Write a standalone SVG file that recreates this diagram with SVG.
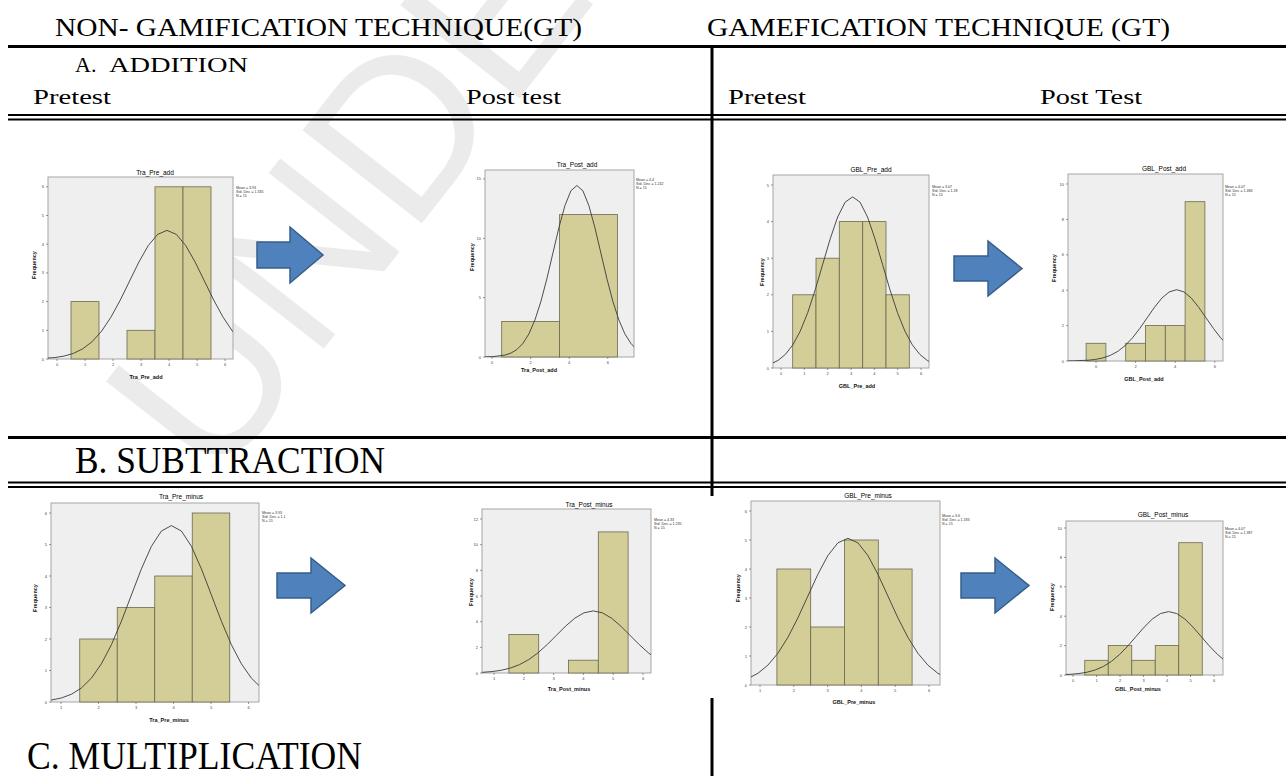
<svg xmlns="http://www.w3.org/2000/svg" width="1286" height="776" viewBox="0 0 1286 776">
<style>
.hd{font-family:"Liberation Serif","Times New Roman",serif;fill:#000}
.ln{stroke:#000;fill:none}
.wm{font-family:"Liberation Sans",Arial,sans-serif;font-size:220px;fill:#ebebeb}
.fr{fill:#efefef;stroke:#a6a6a6;stroke-width:1}
.bar{fill:#d3ce98;stroke:#6b6850;stroke-width:0.8}
.tk{stroke:#555;stroke-width:0.6}
.yl{font-family:"Liberation Sans",Arial,sans-serif;font-size:4px;fill:#444;text-anchor:end}
.xl{font-family:"Liberation Sans",Arial,sans-serif;font-size:4px;fill:#444;text-anchor:middle}
.ti{font-family:"Liberation Sans",Arial,sans-serif;font-size:6.5px;fill:#000;text-anchor:middle}
.ax{font-family:"Liberation Sans",Arial,sans-serif;font-size:5.5px;font-weight:bold;fill:#111;text-anchor:middle}
.st{font-family:"Liberation Sans",Arial,sans-serif;font-size:3.6px;fill:#333}
.arr{fill:#4f81bd;stroke:#385d8a;stroke-width:1.5}
#gc{fill:none;stroke:#3a3a3a;stroke-width:0.9;vector-effect:non-scaling-stroke;stroke-linejoin:round}
</style>
<defs>
<path id="gc" d="M-6,0 L-4.5,-0.00004 L-4,-0.0003 L-3.5,-0.0022 L-3,-0.0111 L-2.75,-0.0228 L-2.5,-0.0439 L-2.25,-0.0796 L-2,-0.1353 L-1.75,-0.2163 L-1.5,-0.3247 L-1.25,-0.4578 L-1,-0.6065 L-0.75,-0.7548 L-0.5,-0.8825 L-0.25,-0.9692 L0,-1 L0.25,-0.9692 L0.5,-0.8825 L0.75,-0.7548 L1,-0.6065 L1.25,-0.4578 L1.5,-0.3247 L1.75,-0.2163 L2,-0.1353 L2.25,-0.0796 L2.5,-0.0439 L2.75,-0.0228 L3,-0.0111 L3.5,-0.0022 L4,-0.0003 L4.5,-0.00004 L6,0"/>
<clipPath id="c1"><rect x="48" y="177" width="185" height="182"/></clipPath>
<clipPath id="c2"><rect x="485" y="170" width="149" height="187"/></clipPath>
<clipPath id="c3"><rect x="773" y="175" width="156" height="193"/></clipPath>
<clipPath id="c4"><rect x="1068" y="174" width="155" height="187"/></clipPath>
<clipPath id="c5"><rect x="51" y="503" width="208" height="199"/></clipPath>
<clipPath id="c6"><rect x="482" y="509" width="169" height="164"/></clipPath>
<clipPath id="c7"><rect x="751" y="501" width="189" height="184"/></clipPath>
<clipPath id="c8"><rect x="1066" y="521" width="157" height="154"/></clipPath>
</defs>
<rect width="1286" height="776" fill="#fff"/>
<text class="wm" transform="translate(215,488) rotate(-52)">UNDER PEER REVIEW</text>

<g id="table">
<text class="hd" x="55" y="36" font-size="25" textLength="527" lengthAdjust="spacingAndGlyphs">NON- GAMIFICATION TECHNIQUE(GT)</text>
<text class="hd" x="707" y="36" font-size="25" textLength="463" lengthAdjust="spacingAndGlyphs">GAMEFICATION TECHNIQUE (GT)</text>
<line class="ln" x1="8" y1="46.5" x2="1286" y2="46.5" stroke-width="3"/>
<text class="hd" x="75" y="72" font-size="22">A.</text>
<text class="hd" x="109" y="72" font-size="22" textLength="139" lengthAdjust="spacingAndGlyphs">ADDITION</text>
<text class="hd" x="33" y="104" font-size="22" textLength="78" lengthAdjust="spacingAndGlyphs">Pretest</text>
<text class="hd" x="466" y="104" font-size="22" textLength="95" lengthAdjust="spacingAndGlyphs">Post test</text>
<text class="hd" x="728" y="104" font-size="22" textLength="78" lengthAdjust="spacingAndGlyphs">Pretest</text>
<text class="hd" x="1040" y="104" font-size="22" textLength="102" lengthAdjust="spacingAndGlyphs">Post Test</text>
<line class="ln" x1="8" y1="115" x2="1286" y2="115" stroke-width="2"/>
<line class="ln" x1="8" y1="119.5" x2="1286" y2="119.5" stroke-width="2"/>
<line class="ln" x1="712" y1="46" x2="712" y2="496" stroke-width="3"/>
<line class="ln" x1="8" y1="437.5" x2="1286" y2="437.5" stroke-width="3"/>
<text class="hd" x="75" y="473" font-size="38" textLength="310" lengthAdjust="spacingAndGlyphs">B. SUBTTRACTION</text>
<line class="ln" x1="8" y1="482.5" x2="1286" y2="482.5" stroke-width="2"/>
<line class="ln" x1="8" y1="487" x2="1286" y2="487" stroke-width="2"/>
<line class="ln" x1="712" y1="698" x2="712" y2="776" stroke-width="3"/>
<text class="hd" x="27" y="769" font-size="39" textLength="335" lengthAdjust="spacingAndGlyphs">C. MULTIPLICATION</text>
</g>

<g id="chart-tra-pre-add">
<rect class="fr" x="48" y="177" width="185" height="182"/>
<rect class="bar" x="71" y="301.6" width="28" height="57.4"/>
<rect class="bar" x="127" y="330.3" width="28" height="28.7"/>
<rect class="bar" x="155" y="186.8" width="28" height="172.2"/>
<rect class="bar" x="183" y="186.8" width="28" height="172.2"/>
<g clip-path="url(#c1)"><use href="#gc" transform="translate(167,359) scale(37.4,128.6)"/></g>
<path class="tk" d="M46,359H48M46,330.3H48M46,301.6H48M46,272.9H48M46,244.2H48M46,215.5H48M46,186.8H48M57,359V361M85,359V361M113,359V361M141,359V361M169,359V361M197,359V361M225,359V361"/>
<text class="yl" x="44" y="360.5">0</text><text class="yl" x="44" y="331.8">1</text><text class="yl" x="44" y="303.1">2</text><text class="yl" x="44" y="274.4">3</text><text class="yl" x="44" y="245.7">4</text><text class="yl" x="44" y="217">5</text><text class="yl" x="44" y="188.3">6</text>
<text class="xl" x="57" y="366">0</text><text class="xl" x="85" y="366">1</text><text class="xl" x="113" y="366">2</text><text class="xl" x="141" y="366">3</text><text class="xl" x="169" y="366">4</text><text class="xl" x="197" y="366">5</text><text class="xl" x="225" y="366">6</text>
<text class="ti" x="155" y="175">Tra_Pre_add</text>
<text class="ax" x="146" y="379">Tra_Pre_add</text>
<text class="ax" transform="translate(36,265) rotate(-90)">Frequency</text>
<text class="st" x="236" y="189">Mean = 3.93</text><text class="st" x="236" y="193">Std. Dev. = 1.335</text><text class="st" x="236" y="197">N = 15</text>
</g>

<g id="chart-tra-post-add">
<rect class="fr" x="485" y="170" width="149" height="187"/>
<rect class="bar" x="501.7" y="321.4" width="57.9" height="35.6"/>
<rect class="bar" x="559.6" y="214.6" width="57.9" height="142.4"/>
<g clip-path="url(#c2)"><use href="#gc" transform="translate(576.9,357) scale(23.97,171.5)"/></g>
<path class="tk" d="M483,357H485M483,297.6H485M483,238.3H485M483,178.9H485M492,357V359M530.6,357V359M569.2,357V359M607.8,357V359"/>
<text class="yl" x="481" y="358.5">0</text><text class="yl" x="481" y="299.1">5</text><text class="yl" x="481" y="239.8">10</text><text class="yl" x="481" y="180.4">15</text>
<text class="xl" x="492" y="364">0</text><text class="xl" x="530.6" y="364">2</text><text class="xl" x="569.2" y="364">4</text><text class="xl" x="607.8" y="364">6</text>
<text class="ti" x="577" y="167">Tra_Post_add</text>
<text class="ax" x="539" y="372">Tra_Post_add</text>
<text class="ax" transform="translate(474,257) rotate(-90)">Frequency</text>
<text class="st" x="636" y="181">Mean = 4.4</text><text class="st" x="636" y="185">Std. Dev. = 1.242</text><text class="st" x="636" y="189">N = 15</text>
</g>

<g id="chart-gbl-pre-add">
<rect class="fr" x="773" y="175" width="156" height="193"/>
<rect class="bar" x="792.7" y="294.8" width="23.3" height="73.2"/>
<rect class="bar" x="816" y="258.2" width="23.3" height="109.8"/>
<rect class="bar" x="839.3" y="221.6" width="23.4" height="146.4"/>
<rect class="bar" x="862.7" y="221.6" width="23.3" height="146.4"/>
<rect class="bar" x="886" y="294.8" width="23.3" height="73.2"/>
<g clip-path="url(#c3)"><use href="#gc" transform="translate(852.6,368) scale(29.87,171.1)"/></g>
<path class="tk" d="M771,368H773M771,331.4H773M771,294.8H773M771,258.2H773M771,221.6H773M771,185H773M781,368V370M804.3,368V370M827.7,368V370M851,368V370M874.3,368V370M897.7,368V370M921,368V370"/>
<text class="yl" x="769" y="369.5">0</text><text class="yl" x="769" y="332.9">1</text><text class="yl" x="769" y="296.3">2</text><text class="yl" x="769" y="259.7">3</text><text class="yl" x="769" y="223.1">4</text><text class="yl" x="769" y="186.5">5</text>
<text class="xl" x="781" y="375">0</text><text class="xl" x="804.3" y="375">1</text><text class="xl" x="827.7" y="375">2</text><text class="xl" x="851" y="375">3</text><text class="xl" x="874.3" y="375">4</text><text class="xl" x="897.7" y="375">5</text><text class="xl" x="921" y="375">6</text>
<text class="ti" x="871" y="172">GBL_Pre_add</text>
<text class="ax" x="857" y="388">GBL_Pre_add</text>
<text class="ax" transform="translate(764,272) rotate(-90)">Frequency</text>
<text class="st" x="932" y="188">Mean = 3.07</text><text class="st" x="932" y="192">Std. Dev. = 1.28</text><text class="st" x="932" y="196">N = 15</text>
</g>

<g id="chart-gbl-post-add">
<rect class="fr" x="1068" y="174" width="155" height="187"/>
<rect class="bar" x="1086.1" y="343.3" width="19.8" height="17.7"/>
<rect class="bar" x="1125.7" y="343.3" width="19.8" height="17.7"/>
<rect class="bar" x="1145.5" y="325.6" width="19.8" height="35.4"/>
<rect class="bar" x="1165.3" y="325.6" width="19.8" height="35.4"/>
<rect class="bar" x="1185.1" y="201.7" width="19.8" height="159.3"/>
<g clip-path="url(#c4)"><use href="#gc" transform="translate(1176.6,361) scale(29.4,71.3)"/></g>
<path class="tk" d="M1066,361H1068M1066,325.6H1068M1066,290.2H1068M1066,254.8H1068M1066,219.4H1068M1066,184H1068M1096,361V363M1135.6,361V363M1175.2,361V363M1214.8,361V363"/>
<text class="yl" x="1064" y="362.5">0</text><text class="yl" x="1064" y="327.1">2</text><text class="yl" x="1064" y="291.7">4</text><text class="yl" x="1064" y="256.3">6</text><text class="yl" x="1064" y="220.9">8</text><text class="yl" x="1064" y="185.5">10</text>
<text class="xl" x="1096" y="368">0</text><text class="xl" x="1135.6" y="368">2</text><text class="xl" x="1175.2" y="368">4</text><text class="xl" x="1214.8" y="368">6</text>
<text class="ti" x="1164" y="171">GBL_Post_add</text>
<text class="ax" x="1144" y="381">GBL_Post_add</text>
<text class="ax" transform="translate(1056,268) rotate(-90)">Frequency</text>
<text class="st" x="1225" y="188">Mean = 4.07</text><text class="st" x="1225" y="192">Std. Dev. = 1.486</text><text class="st" x="1225" y="196">N = 15</text>
</g>

<g id="chart-tra-pre-minus">
<rect class="fr" x="51" y="503" width="208" height="199"/>
<rect class="bar" x="79.75" y="639" width="37.5" height="63"/>
<rect class="bar" x="117.25" y="607.5" width="37.5" height="94.5"/>
<rect class="bar" x="154.75" y="576" width="37.5" height="126"/>
<rect class="bar" x="192.25" y="513" width="37.5" height="189"/>
<g clip-path="url(#c5)"><use href="#gc" transform="translate(171.4,702) scale(40,176.4)"/></g>
<path class="tk" d="M49,702H51M49,670.5H51M49,639H51M49,607.5H51M49,576H51M49,544.5H51M49,513H51M61,702V704M98.5,702V704M136,702V704M173.5,702V704M211,702V704M248.5,702V704"/>
<text class="yl" x="47" y="703.5">0</text><text class="yl" x="47" y="672">1</text><text class="yl" x="47" y="640.5">2</text><text class="yl" x="47" y="609">3</text><text class="yl" x="47" y="577.5">4</text><text class="yl" x="47" y="546">5</text><text class="yl" x="47" y="514.5">6</text>
<text class="xl" x="61" y="709">1</text><text class="xl" x="98.5" y="709">2</text><text class="xl" x="136" y="709">3</text><text class="xl" x="173.5" y="709">4</text><text class="xl" x="211" y="709">5</text><text class="xl" x="248.5" y="709">6</text>
<text class="ti" x="181" y="499">Tra_Pre_minus</text>
<text class="ax" x="169" y="722">Tra_Pre_minus</text>
<text class="ax" transform="translate(37,598) rotate(-90)">Frequency</text>
<text class="st" x="262" y="514">Mean = 3.93</text><text class="st" x="262" y="518">Std. Dev. = 1.1</text><text class="st" x="262" y="522">N = 15</text>
</g>

<g id="chart-tra-post-minus">
<rect class="fr" x="482" y="509" width="169" height="164"/>
<rect class="bar" x="508.9" y="634.5" width="29.8" height="38.5"/>
<rect class="bar" x="568.5" y="660.2" width="29.8" height="12.8"/>
<rect class="bar" x="598.3" y="531.9" width="29.8" height="141.1"/>
<g clip-path="url(#c6)"><use href="#gc" transform="translate(593.2,673) scale(36.8,62.1)"/></g>
<path class="tk" d="M480,673H482M480,647.3H482M480,621.7H482M480,596H482M480,570.3H482M480,544.7H482M480,519H482M494,673V675M523.8,673V675M553.6,673V675M583.4,673V675M613.2,673V675M643,673V675"/>
<text class="yl" x="478" y="674.5">0</text><text class="yl" x="478" y="648.8">2</text><text class="yl" x="478" y="623.2">4</text><text class="yl" x="478" y="597.5">6</text><text class="yl" x="478" y="571.8">8</text><text class="yl" x="478" y="546.2">10</text><text class="yl" x="478" y="520.5">12</text>
<text class="xl" x="494" y="680">1</text><text class="xl" x="523.8" y="680">2</text><text class="xl" x="553.6" y="680">3</text><text class="xl" x="583.4" y="680">4</text><text class="xl" x="613.2" y="680">5</text><text class="xl" x="643" y="680">6</text>
<text class="ti" x="589" y="507">Tra_Post_minus</text>
<text class="ax" x="569" y="691">Tra_Post_minus</text>
<text class="ax" transform="translate(473,592) rotate(-90)">Frequency</text>
<text class="st" x="654" y="521">Mean = 4.33</text><text class="st" x="654" y="525">Std. Dev. = 1.235</text><text class="st" x="654" y="529">N = 15</text>
</g>

<g id="chart-gbl-pre-minus">
<rect class="fr" x="751" y="501" width="189" height="184"/>
<rect class="bar" x="776.9" y="569" width="33.8" height="116"/>
<rect class="bar" x="810.7" y="627" width="33.8" height="58"/>
<rect class="bar" x="844.5" y="540" width="33.8" height="145"/>
<rect class="bar" x="878.3" y="569" width="33.8" height="116"/>
<g clip-path="url(#c7)"><use href="#gc" transform="translate(847.9,685) scale(40,146.7)"/></g>
<path class="tk" d="M749,685H751M749,656H751M749,627H751M749,598H751M749,569H751M749,540H751M749,511H751M760,685V687M793.8,685V687M827.6,685V687M861.4,685V687M895.2,685V687M929,685V687"/>
<text class="yl" x="747" y="686.5">0</text><text class="yl" x="747" y="657.5">1</text><text class="yl" x="747" y="628.5">2</text><text class="yl" x="747" y="599.5">3</text><text class="yl" x="747" y="570.5">4</text><text class="yl" x="747" y="541.5">5</text><text class="yl" x="747" y="512.5">6</text>
<text class="xl" x="760" y="692">1</text><text class="xl" x="793.8" y="692">2</text><text class="xl" x="827.6" y="692">3</text><text class="xl" x="861.4" y="692">4</text><text class="xl" x="895.2" y="692">5</text><text class="xl" x="929" y="692">6</text>
<text class="ti" x="868" y="498">GBL_Pre_minus</text>
<text class="ax" x="854" y="704">GBL_Pre_minus</text>
<text class="ax" transform="translate(740,588) rotate(-90)">Frequency</text>
<text class="st" x="942" y="517">Mean = 3.6</text><text class="st" x="942" y="521">Std. Dev. = 1.183</text><text class="st" x="942" y="525">N = 15</text>
</g>

<g id="chart-gbl-post-minus">
<rect class="fr" x="1066" y="521" width="157" height="154"/>
<rect class="bar" x="1084.75" y="660.3" width="23.5" height="14.7"/>
<rect class="bar" x="1108.25" y="645.6" width="23.5" height="29.4"/>
<rect class="bar" x="1131.75" y="660.3" width="23.5" height="14.7"/>
<rect class="bar" x="1155.25" y="645.6" width="23.5" height="29.4"/>
<rect class="bar" x="1178.75" y="542.7" width="23.5" height="132.3"/>
<g clip-path="url(#c8)"><use href="#gc" transform="translate(1168.6,675) scale(32.6,63.4)"/></g>
<path class="tk" d="M1064,675H1066M1064,645.6H1066M1064,616.2H1066M1064,586.8H1066M1064,557.4H1066M1064,528H1066M1073,675V677M1096.5,675V677M1120,675V677M1143.5,675V677M1167,675V677M1190.5,675V677M1214,675V677"/>
<text class="yl" x="1062" y="676.5">0</text><text class="yl" x="1062" y="647.1">2</text><text class="yl" x="1062" y="617.7">4</text><text class="yl" x="1062" y="588.3">6</text><text class="yl" x="1062" y="558.9">8</text><text class="yl" x="1062" y="529.5">10</text>
<text class="xl" x="1073" y="682">0</text><text class="xl" x="1096.5" y="682">1</text><text class="xl" x="1120" y="682">2</text><text class="xl" x="1143.5" y="682">3</text><text class="xl" x="1167" y="682">4</text><text class="xl" x="1190.5" y="682">5</text><text class="xl" x="1214" y="682">6</text>
<text class="ti" x="1163" y="517">GBL_Post_minus</text>
<text class="ax" x="1138" y="691">GBL_Post_minus</text>
<text class="ax" transform="translate(1054,597) rotate(-90)">Frequency</text>
<text class="st" x="1225" y="530">Mean = 4.07</text><text class="st" x="1225" y="534">Std. Dev. = 1.387</text><text class="st" x="1225" y="538">N = 15</text>
</g>

<g id="connectors">
<polygon class="arr" points="257,242 290,242 290,227 323,255 290,283 290,268 257,268"/>
<polygon class="arr" points="954,256 988,256 988,241 1022,268.5 988,296 988,281 954,281"/>
<polygon class="arr" points="277,573 311,573 311,558 345,585.5 311,613 311,598 277,598"/>
<polygon class="arr" points="961,573 995,573 995,558 1029,585.5 995,613 995,598 961,598"/>
</g>
</svg>
